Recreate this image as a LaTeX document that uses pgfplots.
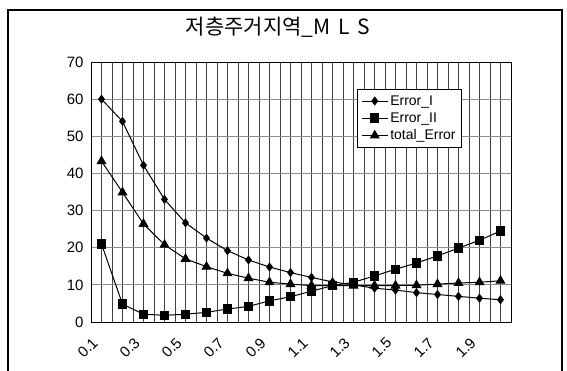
\documentclass[border=0pt]{standalone}
\usepackage{pgfplots}
\pgfplotsset{compat=1.18}
\usepackage{fontspec}
\setmainfont{Liberation Sans}
\newfontfamily\kr{Noto Sans CJK KR}

\begin{document}
\begin{tikzpicture}
\useasboundingbox (0,0) rectangle (567pt,370pt);
% chart area frame
\draw[line width=1.2pt] (8pt,-20pt) rectangle (562pt,360pt);
\node at (278pt,343pt) {\kr\fontsize{21}{24}\selectfont 저층주거지역\_M\hspace{0.15em} L\hspace{0.15em} S};
\begin{axis}[
  at={(91pt,48pt)}, anchor=south west,
  scale only axis, width=420pt, height=260pt,
  xmin=0.5, xmax=20.5, ymin=0, ymax=70,
  ytick={0,10,...,70},
  xtick={1,3,...,19},
  xticklabels={0.1,0.3,0.5,0.7,0.9,1.1,1.3,1.5,1.7,1.9},
  minor xtick={0.5,1,...,20.5},
  xminorgrids, ymajorgrids,
  minor grid style={black!75, line width=0.6pt},
  major grid style={black!45, line width=0.8pt},
  major tick length=0pt, minor tick length=0pt,
  axis line style={black, line width=1pt},
  tick label style={font=\fontsize{15}{16}\selectfont},
  /pgf/number format/assume math mode=true,
  yticklabel style={xshift=-4pt},
  xticklabel style={xshift=-4pt, yshift=-16pt, rotate=45, anchor=east},
  legend style={at={(0.633,0.896)}, anchor=north west, draw=black, line width=0.8pt,
    font=\fontsize{14}{15}\selectfont, row sep=2pt, inner sep=4pt,
    /tikz/every even column/.append style={column sep=1pt}},
  legend image code/.code={%
    \draw[mark repeat=2,mark phase=2] plot coordinates {(0pt,0pt) (13pt,0pt) (26pt,0pt)};},
  legend cell align=left,
  every axis plot/.append style={black, line width=1pt},
]
\addplot[mark=diamond*, mark size=3.8pt] coordinates {
 (1,60) (2,54) (3,42.2) (4,33) (5,26.7) (6,22.6) (7,19.2) (8,16.7) (9,14.8) (10,13.3)
 (11,12.0) (12,10.8) (13,10.0) (14,9.1) (15,8.6) (16,7.9) (17,7.4) (18,6.9) (19,6.4) (20,6.0)};
\addlegendentry{Error\_I}
\addplot[mark=square*, mark size=4.2pt] coordinates {
 (1,21) (2,4.8) (3,2.1) (4,1.8) (5,2.1) (6,2.6) (7,3.5) (8,4.2) (9,5.7) (10,6.8)
 (11,8.3) (12,9.8) (13,10.7) (14,12.4) (15,14.2) (16,15.9) (17,17.8) (18,19.9) (19,22.0) (20,24.5)};
\addlegendentry{Error\_II}
\addplot[mark=triangle*, mark size=4.8pt] coordinates {
 (1,43.3) (2,34.9) (3,26.4) (4,20.8) (5,17.0) (6,14.9) (7,13.1) (8,11.8) (9,10.7) (10,10.2)
 (11,9.8) (12,9.8) (13,9.8) (14,9.8) (15,9.8) (16,9.9) (17,10.2) (18,10.5) (19,10.7) (20,11.1)};
\addlegendentry{total\_Error}
\end{axis}
\end{tikzpicture}
\end{document}
